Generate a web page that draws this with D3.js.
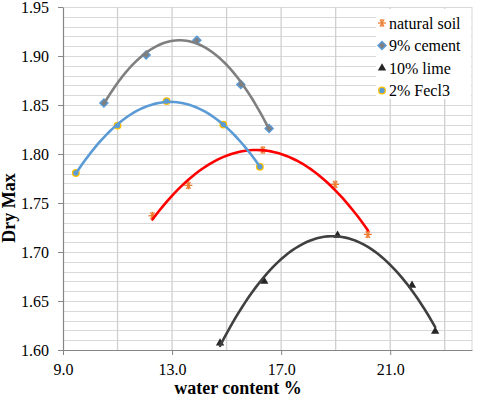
<!DOCTYPE html>
<html lang="en">
<head>
  <meta charset="UTF-8" />
  <title>Dry Max vs water content</title>
  <script src="https://d3js.org/d3.v7.min.js"></script>
  <style>
    body { margin: 0; background: #fff; }
    svg text { font-family: "Liberation Serif", "Times New Roman", serif !important; }
  </style>
</head>
<body>
<svg width="480" height="399"></svg>
<script>
// data (water content %, dry max)
const naturalX = [12.28, 13.6, 16.33, 18.98, 20.18];
const naturalY = [1.737, 1.768, 1.804, 1.769, 1.718];
const cementX = [10.5, 12.05, 13.91, 15.52, 16.56];
const cementY = [1.852, 1.901, 1.916, 1.871, 1.826];
const limeX = [14.76, 16.38, 19.07, 21.8, 22.65];
const limeY = [1.607, 1.670, 1.717, 1.666, 1.619];
const fecl3X = [9.47, 11.0, 12.8, 14.88, 16.22];
const fecl3Y = [1.7806, 1.829, 1.854, 1.830, 1.787];

const seriesNames = ["natural soil", "9% cement", "10% lime", "2% Fecl3"];
const xTickLabels = [9, 13, 17, 21];
const yTickLabels = [1.60, 1.65, 1.70, 1.75, 1.80, 1.85, 1.90, 1.95];

const series = [
  { name: seriesNames[0], xs: naturalX, ys: naturalY, line: "#ff0000", marker: "star" },
  { name: seriesNames[1], xs: cementX, ys: cementY, line: "#7f7f7f", marker: "diamond" },
  { name: seriesNames[2], xs: limeX, ys: limeY, line: "#404040", marker: "triangle" },
  { name: seriesNames[3], xs: fecl3X, ys: fecl3Y, line: "#5b9bd5", marker: "circle" }
];

const svg = d3.select("svg");
const plotL = 63, plotR = 472, plotT = 7, plotB = 350;

const x = d3.scaleLinear().domain([9, 24]).range([plotL, plotR]);
const y = d3.scaleLinear().domain([1.60, 1.95]).range([plotB, plotT]);

// gridlines
const grid = svg.append("g");
grid.selectAll("line.h")
  .data(d3.range(0, 36).map(i => 1.60 + i * 0.01))
  .join("line")
  .attr("x1", plotL).attr("x2", plotR)
  .attr("y1", d => Math.round(y(d)) + 0.5).attr("y2", d => Math.round(y(d)) + 0.5)
  .attr("stroke", "#d9d9d9").attr("stroke-width", 1);
grid.selectAll("line.v")
  .data(d3.range(11, 24, 2))
  .join("line")
  .attr("x1", d => x(d)).attr("x2", d => x(d))
  .attr("y1", plotT).attr("y2", plotB)
  .attr("stroke", "#d0d0d0").attr("stroke-width", 1.3);
grid.append("line")
  .attr("x1", plotR).attr("x2", plotR).attr("y1", plotT).attr("y2", plotB)
  .attr("stroke", "#d9d9d9");

// axes
const xAxis = svg.append("g")
  .attr("transform", `translate(0,${plotB})`)
  .call(d3.axisBottom(x).tickValues(xTickLabels).tickFormat(d3.format(".1f")).tickSize(5).tickSizeOuter(0));
const yAxis = svg.append("g")
  .attr("transform", `translate(${plotL},0)`)
  .call(d3.axisLeft(y).tickValues(yTickLabels).tickFormat(d3.format(".2f")).tickSize(5).tickSizeOuter(0));
[xAxis, yAxis].forEach(a => {
  a.attr("font-size", 16);
  a.select(".domain").attr("stroke", "#868686").attr("stroke-width", 1.2);
  a.selectAll(".tick line").attr("stroke", "#868686");
  a.selectAll("text").attr("fill", "#000");
});
xAxis.selectAll("text").attr("dy", "1.05em");
yAxis.selectAll("text").attr("x", -14).attr("dy", "0.36em");

// quadratic least-squares trendline, as in the spreadsheet
function quadFit(xs, ys) {
  const s = k => d3.sum(xs, v => Math.pow(v, k));
  const t = k => d3.sum(xs, (v, i) => Math.pow(v, k) * ys[i]);
  const A = [[s(4), s(3), s(2)], [s(3), s(2), s(1)], [s(2), s(1), xs.length]];
  const b = [t(2), t(1), t(0)];
  // gaussian elimination
  for (let i = 0; i < 3; i++) {
    for (let j = i + 1; j < 3; j++) {
      const f = A[j][i] / A[i][i];
      for (let k = i; k < 3; k++) A[j][k] -= f * A[i][k];
      b[j] -= f * b[i];
    }
  }
  const c = [0, 0, 0];
  for (let i = 2; i >= 0; i--) {
    let v = b[i];
    for (let k = i + 1; k < 3; k++) v -= A[i][k] * c[k];
    c[i] = v / A[i][i];
  }
  return v => c[0] * v * v + c[1] * v + c[2];
}

function drawMarker(g, type, cx, cy) {
  if (type === "star") {
    const r = 4;
    [0, 60, 120].forEach(a => {
      const rad = a * Math.PI / 180;
      g.append("line")
        .attr("x1", cx - r * Math.cos(rad)).attr("y1", cy - r * Math.sin(rad))
        .attr("x2", cx + r * Math.cos(rad)).attr("y2", cy + r * Math.sin(rad))
        .attr("stroke", "#ed7d31").attr("stroke-width", 1.3);
    });
    g.append("line").attr("x1", cx).attr("x2", cx).attr("y1", cy - r).attr("y2", cy + r)
      .attr("stroke", "#ed7d31").attr("stroke-width", 1.3);
  } else if (type === "diamond") {
    g.append("path")
      .attr("d", d3.symbol(d3.symbolDiamond2, 40)())
      .attr("transform", `translate(${cx},${cy})`)
      .attr("fill", "#7f7f7f").attr("stroke", "#5b9bd5").attr("stroke-width", 1.5);
  } else if (type === "triangle") {
    g.append("path")
      .attr("d", d3.symbol(d3.symbolTriangle, 30)())
      .attr("transform", `translate(${cx},${cy})`)
      .attr("fill", "#262626");
  } else {
    g.append("circle")
      .attr("cx", cx).attr("cy", cy).attr("r", 3.3)
      .attr("fill", "#5b9bd5").attr("stroke", "#ffc000").attr("stroke-width", 1.3);
  }
}

const marks = svg.append("g");
series.forEach(sr => {
  sr.xs.forEach((v, i) => drawMarker(marks, sr.marker, x(v), y(sr.ys[i])));
});

const lineGen = d3.line().x(d => x(d[0])).y(d => y(d[1]));
const trend = svg.append("g");
series.forEach(sr => {
  const f = quadFit(sr.xs, sr.ys);
  const lo = d3.min(sr.xs), hi = d3.max(sr.xs);
  const pts = d3.range(0, 61).map(i => {
    const v = lo + (hi - lo) * i / 60;
    return [v, f(v)];
  });
  trend.append("path")
    .datum(pts)
    .attr("d", lineGen)
    .attr("fill", "none")
    .attr("stroke", sr.line)
    .attr("stroke-width", 2.6)
    .attr("stroke-linecap", "round");
});

// legend
const legend = svg.append("g");
legend.append("rect")
  .attr("x", 376).attr("y", 9).attr("width", 95).attr("height", 90)
  .attr("fill", "#fff");
series.forEach((sr, i) => {
  const ly = 23 + i * 22.5;
  drawMarker(legend, sr.marker, 382, ly);
  legend.append("text")
    .attr("x", 389).attr("y", ly)
    .attr("dy", "0.35em")
    .attr("font-size", 16)
    .text(sr.name);
});

// axis titles
svg.append("text")
  .attr("x", 238).attr("y", 394)
  .attr("text-anchor", "middle")
  .attr("font-size", 18).attr("font-weight", "bold")
  .text("water content %");
svg.append("text")
  .attr("transform", "translate(15,208) rotate(-90)")
  .attr("text-anchor", "middle")
  .attr("font-size", 18).attr("font-weight", "bold")
  .text("Dry Max");
</script>
</body>
</html>
